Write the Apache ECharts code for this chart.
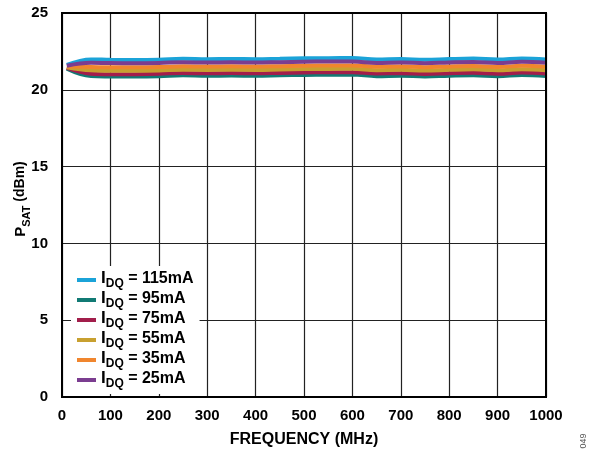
<!DOCTYPE html>
<html>
<head>
<meta charset="utf-8">
<script src="https://cdn.jsdelivr.net/npm/echarts@6/dist/echarts.min.js"></script>
<style>
  html, body { margin: 0; padding: 0; background: #fff; }
  #chart { width: 592px; height: 452px; }
</style>
</head>
<body>
<div id="chart"></div>
<script>
// frequency points (MHz)
var freq = [10, 60, 100, 150, 200, 250, 300, 350, 400, 450, 500, 550, 600, 650, 700, 750, 800, 850, 900, 950, 1000];

// PSAT (dBm) for each IDQ
var psat115 = [21.62, 21.98, 21.95, 21.94, 21.96, 22.02, 21.99, 22.01, 21.99, 22.02, 22.05, 22.06, 22.07, 21.97, 22.00, 21.95, 22.00, 22.03, 21.97, 22.04, 21.98];
var psat95  = [21.38, 20.90, 20.87, 20.86, 20.88, 20.94, 20.91, 20.93, 20.91, 20.94, 20.97, 20.98, 20.99, 20.89, 20.92, 20.87, 20.92, 20.95, 20.89, 20.96, 20.90];
var psat75  = [21.42, 21.05, 21.02, 21.02, 21.04, 21.10, 21.07, 21.09, 21.07, 21.10, 21.13, 21.14, 21.15, 21.06, 21.08, 21.03, 21.08, 21.11, 21.05, 21.12, 21.06];
var psat55  = [21.47, 21.27, 21.24, 21.24, 21.26, 21.31, 21.29, 21.31, 21.29, 21.32, 21.35, 21.36, 21.37, 21.28, 21.30, 21.25, 21.30, 21.33, 21.27, 21.34, 21.28];
var psat35  = [21.52, 21.49, 21.46, 21.46, 21.48, 21.53, 21.51, 21.53, 21.51, 21.54, 21.57, 21.58, 21.59, 21.50, 21.52, 21.47, 21.52, 21.55, 21.49, 21.56, 21.50];
var psat25  = [21.57, 21.76, 21.74, 21.73, 21.75, 21.80, 21.77, 21.79, 21.77, 21.80, 21.83, 21.84, 21.85, 21.75, 21.78, 21.73, 21.78, 21.81, 21.75, 21.82, 21.76];

var seriesNames = ['115mA', '95mA', '75mA', '55mA', '35mA', '25mA'];
var seriesData = [psat115, psat95, psat75, psat55, psat35, psat25];
var colors = ['#1ba3d8', '#117a74', '#a21e4b', '#c8a030', '#f0862e', '#7b3d90'];

var font = 'Arial, "Liberation Sans", sans-serif';

function pairs(vals) {
  return freq.map(function (f, i) { return [f, vals[i]]; });
}

var chart = echarts.init(document.getElementById('chart'));

var series = seriesNames.map(function (name, k) {
  return {
    name: name,
    type: 'line',
    smooth: 0.4,
    symbol: 'none',
    data: pairs(seriesData[k]),
    lineStyle: { width: 4, color: colors[k] },
    itemStyle: { color: colors[k] }
  };
});

var option = {
  animation: false,
  backgroundColor: '#fff',
  grid: { left: 62, right: 46, top: 13, bottom: 55, containLabel: false, outerBoundsMode: 'none' },
  legend: {
    orient: 'vertical',
    left: 71,
    top: 266,
    padding: [4, 6, 4, 6],
    backgroundColor: '#fff',
    itemGap: 0,
    itemWidth: 19,
    itemHeight: 4,
    icon: 'rect',
    data: seriesNames,
    formatter: function (name) {
      return '{i|I}{s|DQ}{t| = ' + name + '}';
    },
    textStyle: {
      fontFamily: font,
      fontWeight: 'bold',
      color: '#000',
      rich: {
        i: { fontFamily: font, fontWeight: 'bold', fontSize: 17, lineHeight: 19.6, color: '#000', verticalAlign: 'top' },
        s: { fontFamily: font, fontWeight: 'bold', fontSize: 12, lineHeight: 19.6, color: '#000', padding: [8, 0, 0, 0] },
        t: { fontFamily: font, fontWeight: 'bold', fontSize: 16, lineHeight: 19.6, color: '#000', verticalAlign: 'top' }
      }
    }
  },
  xAxis: {
    type: 'value',
    min: 0,
    max: 1000,
    interval: 100,
    name: 'FREQUENCY (MHz)',
    nameLocation: 'middle',
    nameGap: 35,
    nameMoveOverlap: false,
    nameTextStyle: { fontFamily: font, fontWeight: 'bold', fontSize: 16, color: '#000' },
    axisLine: { show: true, onZero: false, lineStyle: { color: '#000', width: 2 } },
    axisTick: { show: false },
    axisLabel: {
      margin: 11, fontFamily: font, fontWeight: 'bold', fontSize: 15, color: '#000',
      formatter: function (v) { return String(v); }
    },
    splitLine: { show: true, lineStyle: { color: '#222', width: 1.2 } }
  },
  yAxis: {
    type: 'value',
    min: 0,
    max: 25,
    interval: 5,
    name: '{p|P}{s|SAT}{t| (dBm)}',
    nameLocation: 'middle',
    nameGap: 29,
    nameMoveOverlap: false,
    nameRotate: 90,
    nameTextStyle: {
      fontFamily: font, fontWeight: 'bold', color: '#000',
      padding: [0, 0, 0, 12],
      rich: {
        p: { fontFamily: font, fontWeight: 'bold', fontSize: 15, color: '#000', lineHeight: 20, verticalAlign: 'top' },
        s: { fontFamily: font, fontWeight: 'bold', fontSize: 11, color: '#000', lineHeight: 20, padding: [8, 0, 0, 0] },
        t: { fontFamily: font, fontWeight: 'bold', fontSize: 14, color: '#000', lineHeight: 20, verticalAlign: 'top' }
      }
    },
    axisLine: { show: true, lineStyle: { color: '#000', width: 2 } },
    axisTick: { show: false },
    axisLabel: { margin: 14, fontFamily: font, fontWeight: 'bold', fontSize: 15, color: '#000' },
    splitLine: { show: true, lineStyle: { color: '#222', width: 1.2 } }
  },
  graphic: [
    {
      type: 'rect',
      shape: { x: 62, y: 13, width: 484, height: 384 },
      style: { fill: 'none', stroke: '#000', lineWidth: 2 },
      silent: true,
      z: 10
    },
    {
      type: 'text',
      x: 584,
      y: 441,
      rotation: Math.PI / 2,
      style: { text: '049', fontFamily: font, fontSize: 9, fill: '#555', align: 'center', verticalAlign: 'middle' }
    }
  ],
  series: series
};

chart.setOption(option);
</script>
</body>
</html>
